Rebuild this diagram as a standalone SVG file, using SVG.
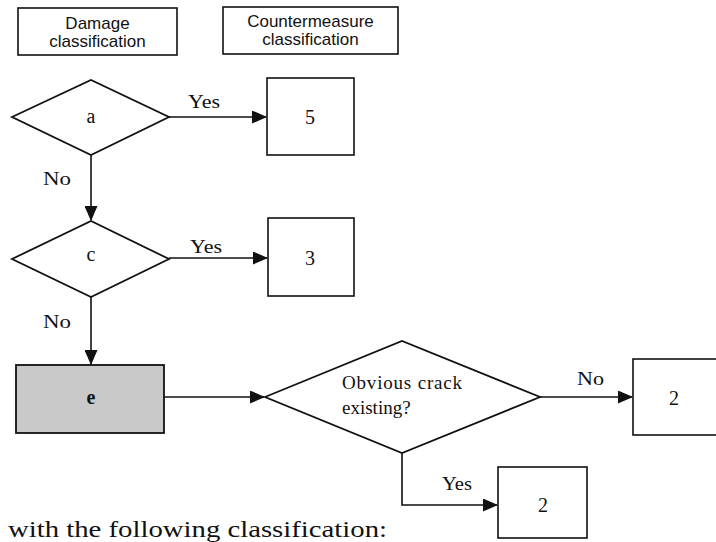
<svg xmlns="http://www.w3.org/2000/svg" width="716" height="542" viewBox="0 0 716 542">
<style>
.box{fill:#fff;stroke:#111;stroke-width:1.6}
.dia{fill:#fff;stroke:#111;stroke-width:1.8}
.hdr{font-family:"Liberation Sans",Arial,sans-serif;font-size:17px;fill:#111;text-anchor:middle}
.lbl{font-family:"Liberation Serif","Times New Roman",serif;font-size:19px;fill:#111}
.num{font-family:"Liberation Serif","Times New Roman",serif;font-size:20px;fill:#111;text-anchor:middle}
.con{fill:none;stroke:#111;stroke-width:1.6}
</style>
<defs>
<marker id="arr" markerUnits="userSpaceOnUse" markerWidth="15" markerHeight="13" refX="14" refY="6.5" orient="auto">
<path d="M0,0 L15,6.5 L0,13 Z" fill="#111"/>
</marker>
</defs>
<g id="hdr-damage">
<rect class="box" x="18" y="8" width="159" height="47"/>
<text class="hdr" x="97.5" y="29">Damage</text>
<text class="hdr" x="97.5" y="47">classification</text>
</g>
<g id="hdr-counter">
<rect class="box" x="223" y="7" width="175" height="47"/>
<text class="hdr" x="310.5" y="27">Countermeasure</text>
<text class="hdr" x="310.5" y="45">classification</text>
</g>
<g id="dec-a">
<polygon class="dia" points="12,117 91,80 169,117 91,155"/>
<text class="num" x="91" y="123">a</text>
</g>
<g id="res-5">
<rect class="box" x="267" y="78" width="87" height="77"/>
<text class="num" x="310" y="124">5</text>
</g>
<g id="dec-c">
<polygon class="dia" points="12,259 91,221 169,259 91,297"/>
<text class="num" x="91" y="261">c</text>
</g>
<g id="res-3">
<rect class="box" x="268" y="218" width="86" height="78"/>
<text class="num" x="310" y="265">3</text>
</g>
<g id="box-e">
<rect x="16" y="365" width="148" height="68" fill="#c9c9c9" stroke="#111" stroke-width="1.8"/>
<text class="num" x="91" y="404" font-weight="bold">e</text>
</g>
<g id="dec-crack">
<polygon class="dia" points="265,397 402,341 540,397 402,453"/>
<text class="lbl" x="342" y="389" font-size="16" textLength="120" lengthAdjust="spacing">Obvious crack</text>
<text class="lbl" x="342" y="414" font-size="16">existing?</text>
</g>
<g id="res-2a">
<rect class="box" x="633" y="359" width="100" height="76"/>
<text class="num" x="674" y="405">2</text>
</g>
<g id="res-2b">
<rect class="box" x="498" y="467" width="89" height="71"/>
<text class="num" x="543" y="512">2</text>
</g>
<g id="connectors">
<line class="con" x1="169" y1="117" x2="266" y2="117" marker-end="url(#arr)"/>
<line class="con" x1="91" y1="155" x2="91" y2="220" marker-end="url(#arr)"/>
<line class="con" x1="169" y1="258" x2="267" y2="258" marker-end="url(#arr)"/>
<line class="con" x1="91" y1="297" x2="91" y2="364" marker-end="url(#arr)"/>
<line class="con" x1="164" y1="397" x2="264" y2="397" marker-end="url(#arr)"/>
<line class="con" x1="540" y1="397" x2="632" y2="397" marker-end="url(#arr)"/>
<path class="con" d="M402,453 V505 H497" marker-end="url(#arr)"/>
<text class="lbl" x="188" y="108" textLength="32" lengthAdjust="spacingAndGlyphs">Yes</text>
<text class="lbl" x="43" y="185" textLength="28" lengthAdjust="spacingAndGlyphs">No</text>
<text class="lbl" x="190" y="253" textLength="32" lengthAdjust="spacingAndGlyphs">Yes</text>
<text class="lbl" x="43" y="328" textLength="28" lengthAdjust="spacingAndGlyphs">No</text>
<text class="lbl" x="577" y="385" textLength="27" lengthAdjust="spacingAndGlyphs">No</text>
<text class="lbl" x="442" y="490" textLength="30" lengthAdjust="spacingAndGlyphs">Yes</text>
</g>
<text x="8" y="537" font-family="'Liberation Serif','Times New Roman',serif" font-size="24" fill="#111" textLength="379" lengthAdjust="spacingAndGlyphs">with the following classification:</text>
</svg>
